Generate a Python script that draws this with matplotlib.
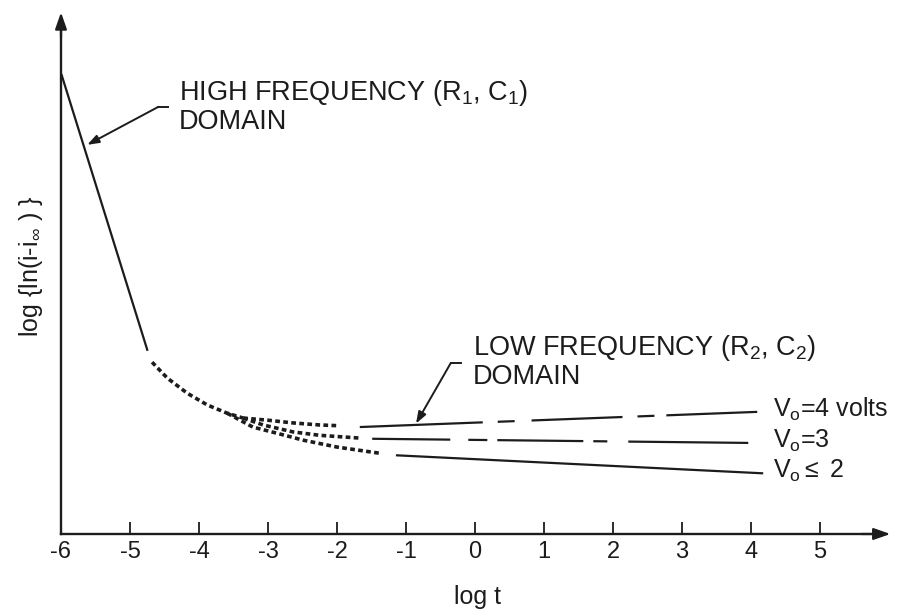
import matplotlib
matplotlib.use("Agg")
import matplotlib.pyplot as plt

plt.rcParams['font.family'] = ['Liberation Sans', 'DejaVu Sans']
plt.rcParams['mathtext.fontset'] = 'custom'
plt.rcParams['mathtext.rm'] = 'Liberation Sans'
plt.rcParams['mathtext.it'] = 'Liberation Sans'
plt.rcParams['axes.unicode_minus'] = False
plt.rcParams['lines.scale_dashes'] = False

ink = '#1c1c1c'

# x ticks (log t)
xticks = [-6, -5, -4, -3, -2, -1, 0, 1, 2, 3, 4, 5]

# high frequency (R1, C1) straight part
hf_x = [-5.99, -4.75]
hf_y = [6.65, 2.67]

# dotted transition, shared part
trunk_x = [-4.68, -4.46, -4.17, -3.88, -3.59, -3.36]
trunk_y = [2.49, 2.26, 2.04, 1.87, 1.75, 1.68]

# dotted branches for each V0
v4_dot_x = [-3.36, -3.01, -2.64, -2.25, -1.99]
v4_dot_y = [1.68, 1.65, 1.61, 1.58, 1.57]
v3_dot_x = [-3.36, -3.07, -2.64, -2.25, -1.67]
v3_dot_y = [1.68, 1.58, 1.48, 1.43, 1.39]
v2_dot_x = [-3.59, -3.22, -2.87, -2.49, -2.00, -1.38]
v2_dot_y = [1.75, 1.55, 1.46, 1.36, 1.26, 1.17]

# low frequency (R2, C2) lines
v4_x = [-1.67, 4.09]
v4_y = [1.55, 1.77]
v3_x = [-1.49, 3.96]
v3_y = [1.38, 1.32]
v2_x = [-1.13, 4.16]
v2_y = [1.14, 0.88]

fig = plt.figure(figsize=(9.02, 6.13), dpi=100)
ax = fig.add_axes([0, 0, 1, 1])
ax.set_xlim(-6.884, 6.188)
ax.set_ylim(-1.145, 7.739)

lw = 1.6
ax.plot(hf_x, hf_y, color=ink, lw=lw)
dots = (0, (3.4, 2.4))
dlw = 2.6
ax.plot(trunk_x, trunk_y, color=ink, lw=dlw, linestyle=dots)
ax.plot(v4_dot_x, v4_dot_y, color=ink, lw=dlw, linestyle=dots)
ax.plot(v3_dot_x, v3_dot_y, color=ink, lw=dlw, linestyle=dots)
ax.plot(v2_dot_x, v2_dot_y, color=ink, lw=dlw, linestyle=dots)

ax.plot(v4_x, v4_y, color=ink, lw=lw,
        linestyle=(0, (88.6, 10.8, 12.2, 12.2, 65.5, 10.8, 12.2, 8.6, 68.4, 7.2)))
ax.plot(v3_x, v3_y, color=ink, lw=lw,
        linestyle=(0, (56.2, 13, 13.7, 7.2, 61.9, 7.2, 10.1, 15.1, 90, 7.2)))
ax.plot(v2_x, v2_y, color=ink, lw=lw)

# axes as arrows
for s in ['top', 'right']:
    ax.spines[s].set_visible(False)
ax.spines['left'].set_position(('data', -6))
ax.spines['bottom'].set_position(('data', 0))
ax.spines['left'].set_bounds(0, 7.3)
ax.spines['bottom'].set_bounds(-6, 5.75)
for s in ['left', 'bottom']:
    ax.spines[s].set_linewidth(1.7)
    ax.spines[s].set_color(ink)
ax.annotate('', xy=(-6, 7.56), xytext=(-6, 7.2),
            arrowprops=dict(arrowstyle='-|>,head_length=1.0,head_width=0.35',
                            color=ink, lw=1.6, shrinkA=0, shrinkB=0))
ax.annotate('', xy=(6.02, 0), xytext=(5.6, 0),
            arrowprops=dict(arrowstyle='-|>,head_length=1.0,head_width=0.35',
                            color=ink, lw=1.6, shrinkA=0, shrinkB=0))

ax.set_xticks(xticks)
ax.set_xticklabels([str(t) for t in xticks])
ax.tick_params(axis='x', direction='in', length=8.5, width=1.3, color=ink,
               labelsize=17, pad=5, labelcolor=ink)
ax.set_yticks([])

ax.set_xlabel('log t', fontsize=18, color=ink)
ax.xaxis.set_label_coords(0.529, 0.045)
ax.set_ylabel(r'log {ln(i-i$_\infty$ ) }', fontsize=18, color=ink)
ax.yaxis.set_label_coords(0.05, 0.565)

# annotations
fs = 19.5
ax.text(-4.29, 6.39, r'HIGH FREQUENCY (R$_1$, C$_1$)', fontsize=fs, color=ink,
        ha='left', va='center')
ax.text(-4.29, 5.97, 'DOMAIN', fontsize=fs, color=ink, ha='left', va='center')
ax.plot([-4.45, -4.59], [6.19, 6.19], color=ink, lw=1.4)
ax.annotate('', xy=(-5.62, 5.64), xytext=(-4.59, 6.19),
            arrowprops=dict(arrowstyle='-|>,head_length=0.7,head_width=0.25',
                            color=ink, lw=1.4, shrinkA=0, shrinkB=0))

ax.text(-0.03, 2.70, r'LOW FREQUENCY (R$_2$, C$_2$)', fontsize=fs, color=ink,
        ha='left', va='center')
ax.text(-0.03, 2.28, 'DOMAIN', fontsize=fs, color=ink, ha='left', va='center')
ax.plot([-0.20, -0.35], [2.48, 2.48], color=ink, lw=1.4)
ax.annotate('', xy=(-0.855, 1.60), xytext=(-0.35, 2.48),
            arrowprops=dict(arrowstyle='-|>,head_length=0.7,head_width=0.25',
                            color=ink, lw=1.4, shrinkA=0, shrinkB=0))

vfs = 18
ax.text(4.32, 1.70, r'V$_{\mathrm{o}}$=4 volts', fontsize=vfs, color=ink,
        ha='left', va='baseline')
ax.text(4.32, 1.25, r'V$_{\mathrm{o}}$=3', fontsize=vfs, color=ink,
        ha='left', va='baseline')
ax.text(4.32, 0.81, r'V$_{\mathrm{o}}$$\leq$ 2', fontsize=vfs, color=ink,
        ha='left', va='baseline')

fig.savefig('out.png', dpi=100, facecolor='white')
